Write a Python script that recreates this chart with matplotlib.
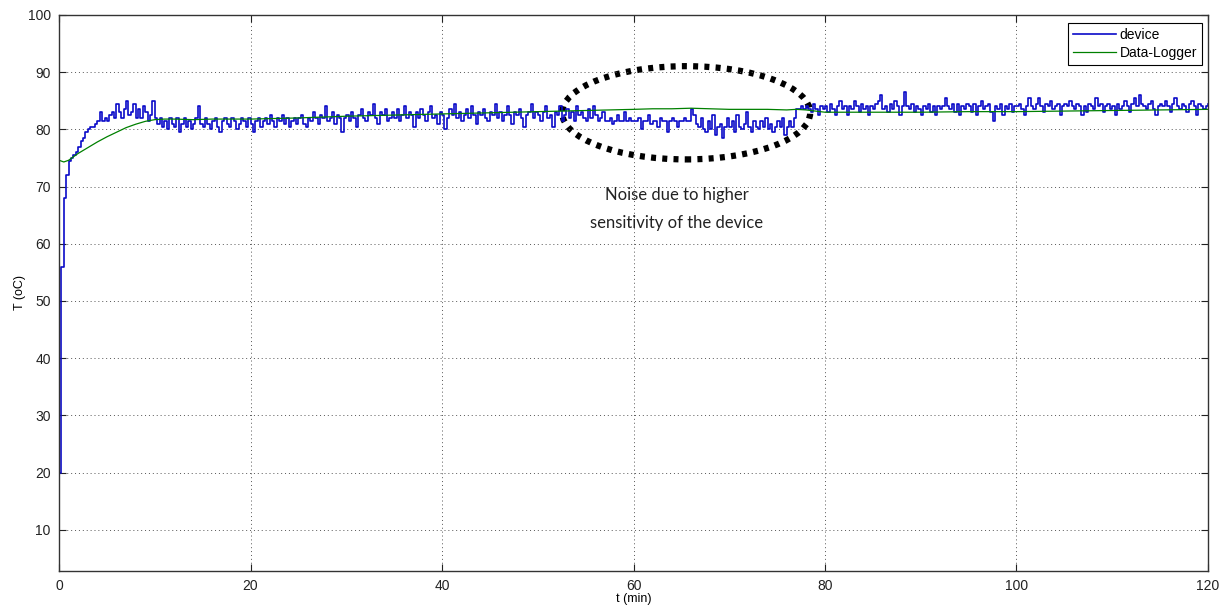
import numpy as np
import matplotlib
matplotlib.use('Agg')
import matplotlib.pyplot as plt
from matplotlib.patches import Ellipse

# device readings, one sample every 0.25 min from t = 0 to t = 120
sample_step = 0.25
device_temp = [
    20, 56, 68, 72, 74.5, 75, 75.5, 76, 77, 78, 78.5, 79.5, 80, 80.5, 80.5, 81, 81.5, 83, 81.5, 82,
    81.5, 82.5, 83, 82, 84.5, 83, 82, 83.5, 85, 82.5, 83, 84.5, 82, 83.5, 82, 84, 83, 81.5, 82.5, 85,
    82, 81, 82, 80.5, 81.5, 80, 82, 81, 80.5, 82, 79.5, 81, 82, 80.5, 81.5, 80, 81, 82, 84, 81,
    80.5, 82, 81, 80, 81.5, 82, 80.5, 79.5, 81.5, 82, 81, 80.5, 82, 81.5, 80, 81, 82, 81.5, 80.5, 82,
    81, 79.5, 81.5, 82, 80.5, 81.5, 82, 81, 82.5, 81.5, 80.5, 82, 81.5, 82.5, 81, 82, 80.5, 81.5, 82, 81,
    82, 82.5, 81, 80.5, 82, 81.5, 83, 82, 81, 82.5, 82, 84, 81.5, 82, 83, 81, 82.5, 82, 79.5, 82,
    82.5, 81.5, 83, 82, 80.5, 82.5, 83.5, 82, 81.5, 83, 82.5, 84.5, 82, 81, 83, 82.5, 83.5, 81.5, 82, 83,
    82, 83.5, 81.5, 82.5, 84, 82, 83, 82.5, 80.5, 83, 82, 83.5, 82.5, 81.5, 83, 84, 82, 82.5, 81, 83,
    82.5, 80, 82, 83.5, 82.5, 84.5, 82, 83, 81.5, 82.5, 83.5, 82, 84, 82.5, 81, 83, 82.5, 83.5, 82, 81.5,
    83, 82.5, 84.5, 82, 83, 81.5, 82.5, 84, 82.5, 81, 83, 82.5, 83.5, 82, 80.5, 82.5, 83, 84.5, 82, 83,
    82.5, 81.5, 83, 84, 82, 82.5, 80.5, 83, 82.5, 84, 81.5, 82.5, 83.5, 82, 83, 81.5, 84, 82.5, 83, 82,
    81.5, 83.5, 82, 84, 82.5, 81.5, 82, 83, 81.5, 81.5, 82, 81, 81.5, 82.5, 81.5, 81.5, 83, 81.5, 82, 81.5,
    81.5, 81.5, 82, 80, 81.5, 81.5, 82.5, 81, 81.5, 81.5, 80.5, 82, 81.5, 81.5, 79.5, 81.5, 82, 81.5, 80.5, 81.5,
    81.5, 82, 81.5, 81.5, 83.5, 82.5, 81, 80.5, 82, 80, 79.5, 81.5, 80, 82.5, 79, 80.5, 81, 78.5, 80.5, 82,
    80.5, 81.5, 79.5, 82.5, 80.5, 80, 81, 83, 80.5, 79.5, 81.5, 80.5, 80, 81.5, 80.5, 82, 80, 81, 79.5, 80.5,
    81.5, 80.5, 82, 79, 80.5, 81.5, 80.5, 82, 83.5, 83.5, 84, 83.5, 84, 83.5, 83, 84.5, 83.5, 82.5, 84, 83.5,
    84, 83, 84.5, 83.5, 82.5, 84, 85, 83.5, 84, 82.5, 84, 83.5, 85, 84, 83, 84.5, 83.5, 84, 82.5, 84,
    83.5, 84.5, 85, 86, 83.5, 84, 83, 84.5, 83.5, 85, 84, 82.5, 84, 86.5, 84, 83.5, 84.5, 83, 84, 83.5,
    82.5, 84, 83.5, 84.5, 83, 84, 82.5, 84, 83.5, 84, 85.5, 84, 83.5, 84.5, 83, 84.5, 82.5, 84, 83.5, 84.5,
    84, 83, 84.5, 82.5, 84, 85, 83.5, 84, 84.5, 83, 81.5, 84, 83.5, 84.5, 82.5, 84, 83.5, 84.5, 83, 84,
    84, 84.5, 83.5, 82.5, 84, 85.5, 84, 83.5, 84.5, 85.5, 84, 83, 84.5, 84, 85, 83.5, 84, 84.5, 82.5, 84,
    84.5, 84, 85, 84, 83.5, 84.5, 84, 82.5, 84, 83, 84.5, 84, 83.5, 85.5, 84, 84.5, 83, 84, 84.5, 83.5,
    84, 82.5, 84.5, 83.5, 84, 85, 84, 83, 84.5, 85.5, 84, 86, 84.5, 84, 83.5, 84.5, 85, 83.5, 82.5, 84,
    84.5, 84, 85, 84, 83, 84.5, 85.5, 84, 83.5, 84.5, 84, 83, 84.5, 85, 84, 82.5, 84.5, 84, 83.5, 84,
    84.5,
]
device_time = np.arange(len(device_temp)) * sample_step

# data-logger readings
logger_time = [0, 0.5, 1, 1.5, 2, 3, 4, 5, 6, 7, 8, 9, 10, 11, 12, 14, 16, 18, 20, 25, 30,
               35, 40, 45, 50, 55, 60, 62, 64, 66, 68, 70, 72, 74, 76, 77, 78, 79, 80,
               85, 90, 95, 100, 105, 110, 115, 120]
logger_temp = [74.6, 74.3, 74.6, 75.2, 75.8, 76.8, 77.8, 78.7, 79.5, 80.3, 80.9, 81.4, 81.7,
               81.8, 81.8, 81.7, 81.8, 81.8, 81.8, 82.0, 82.3, 82.5, 82.7, 82.9, 83.1, 83.3,
               83.5, 83.6, 83.6, 83.7, 83.6, 83.5, 83.5, 83.5, 83.4, 83.5, 83.4, 83.2, 83.0,
               83.0, 83.0, 83.1, 83.1, 83.2, 83.3, 83.4, 83.5]

x_ticks = [0, 20, 40, 60, 80, 100, 120]
y_ticks = [10, 20, 30, 40, 50, 60, 70, 80, 90, 100]

plt.rcParams['font.family'] = ['Liberation Sans', 'DejaVu Sans']

fig = plt.figure(figsize=(12.25, 6.11), dpi=100)
ax = fig.add_axes([0.0482, 0.0655, 0.9379, 0.91])

# the device reads in steps, so draw it as a staircase
ax.plot(device_time, device_temp, color='#0a0ac8', lw=1.2, drawstyle='steps-post',
        label='device')
ax.plot(logger_time, logger_temp, color='#008000', lw=0.9, label='Data-Logger')

ax.set_xlim(0, 120)
ax.set_ylim(2.8, 100)
ax.set_xticks(x_ticks)
ax.set_yticks(y_ticks)
ax.tick_params(direction='in', top=True, right=True, length=5, labelsize=10, pad=6,
               color='#222222', labelcolor='#222222')
for s in ax.spines.values():
    s.set_color('#333333')
    s.set_linewidth(1.0)
ax.grid(True, linestyle=(0, (1, 3)), color='#555555', linewidth=0.7)

ax.set_xlabel('t (min)', fontsize=9, labelpad=0)
ax.set_ylabel('T (oC)', fontsize=9, labelpad=1)

# circled region of extra noise
ax.add_patch(Ellipse((65.5, 82.9), width=25.9, height=16.3, fill=False,
                     edgecolor='black', linestyle=(0, (0.8, 1.0)), linewidth=4.5))
ax.text(64.5, 66.1, 'Noise due to higher\nsensitivity of the device',
        ha='center', va='center', fontsize=12, family=['Lato', 'DejaVu Sans'],
        linespacing=1.9, color='#222222')

leg = ax.legend(loc='upper right', bbox_to_anchor=(0.995, 0.986), borderaxespad=0,
                fontsize=10, fancybox=False, edgecolor='black', framealpha=1,
                handlelength=3.1, handletextpad=0.3, borderpad=0.35, labelspacing=0.3)
leg.get_frame().set_linewidth(0.8)

fig.savefig('out.png', dpi=100)
